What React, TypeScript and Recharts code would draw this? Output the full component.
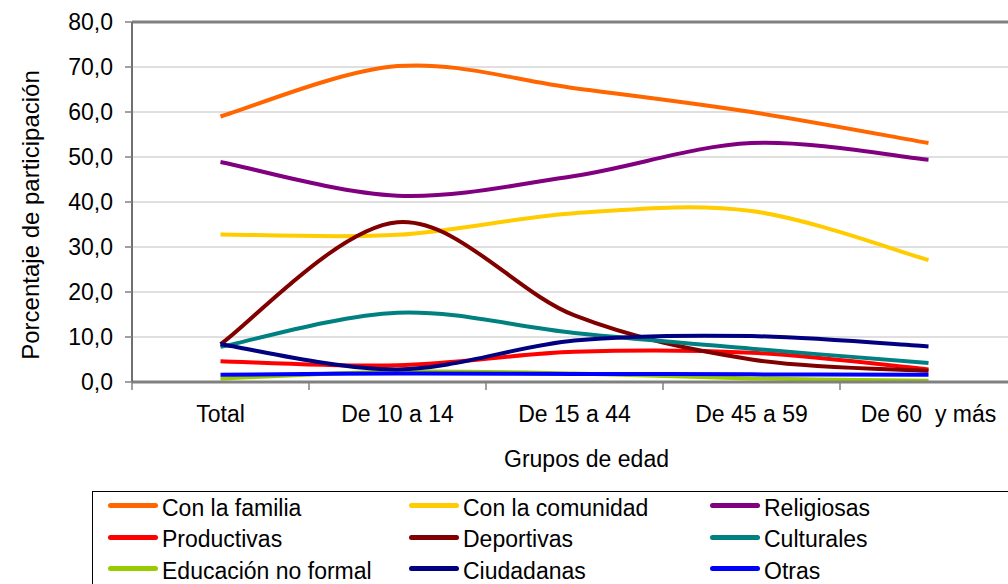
import {
  CartesianGrid,
  Legend,
  Line,
  LineChart,
  ReferenceLine,
  XAxis,
  YAxis,
} from 'recharts';

const FONT = '"Liberation Sans", Arial, sans-serif';

// Grupos de edad (categorias del eje X)
const groups = ['Total', 'De 10 a 14', 'De 15 a 44', 'De 45 a 59', 'De 60  y más'];

// Porcentaje de participación por tipo de organización
const conLaFamilia = [59.0, 70.2, 65.3, 60.0, 53.1];
const conLaComunidad = [32.8, 32.7, 37.5, 38.0, 27.1];
const religiosas = [48.9, 41.4, 45.8, 53.1, 49.4];
const productivas = [4.6, 3.7, 6.7, 6.5, 2.8];
const deportivas = [8.4, 35.5, 14.8, 5.0, 2.5];
const culturales = [7.8, 15.4, 10.9, 7.4, 4.2];
const educacionNoFormal = [0.8, 2.3, 1.9, 0.8, 0.3];
const ciudadanas = [8.4, 2.8, 9.2, 10.2, 7.9];
const otras = [1.6, 1.9, 1.8, 1.7, 1.6];

const yTicks = [0, 10, 20, 30, 40, 50, 60, 70, 80];

const series = [
  { key: 'familia', name: 'Con la familia', color: '#FF6600', values: conLaFamilia },
  { key: 'comunidad', name: 'Con la comunidad', color: '#FFCC00', values: conLaComunidad },
  { key: 'religiosas', name: 'Religiosas', color: '#800080', values: religiosas },
  { key: 'productivas', name: 'Productivas', color: '#FF0000', values: productivas },
  { key: 'deportivas', name: 'Deportivas', color: '#800000', values: deportivas },
  { key: 'culturales', name: 'Culturales', color: '#008080', values: culturales },
  { key: 'educacion', name: 'Educación no formal', color: '#99CC00', values: educacionNoFormal },
  { key: 'ciudadanas', name: 'Ciudadanas', color: '#000080', values: ciudadanas },
  { key: 'otras', name: 'Otras', color: '#0000FF', values: otras },
];

// each group sits in the middle of its band, ticks on the band edges
const rows = groups.map((g, i) => {
  const row: Record<string, any> = { group: g, pos: i + 0.5 };
  series.forEach((s) => {
    row[s.key] = s.values[i];
  });
  return row;
});
const xTicks: number[] = [];
for (let i = 0; i <= groups.length * 2; i++) xTicks.push(i / 2);

// Excel style smoothed line (catmull-rom as cubic bezier)
const excelCurve = (context: any) => {
  let pts: number[][] = [];
  return {
    areaStart() {},
    areaEnd() {},
    lineStart() {
      pts = [];
    },
    lineEnd() {
      const n = pts.length;
      if (!n) return;
      context.moveTo(pts[0][0], pts[0][1]);
      for (let i = 0; i < n - 1; i++) {
        const p0 = pts[Math.max(i - 1, 0)];
        const p1 = pts[i];
        const p2 = pts[i + 1];
        const p3 = pts[Math.min(i + 2, n - 1)];
        context.bezierCurveTo(
          p1[0] + (p2[0] - p0[0]) / 6,
          p1[1] + (p2[1] - p0[1]) / 6,
          p2[0] - (p3[0] - p1[0]) / 6,
          p2[1] - (p3[1] - p1[1]) / 6,
          p2[0],
          p2[1],
        );
      }
    },
    point(x: number, y: number) {
      pts.push([+x, +y]);
    },
  };
};

const XTick = (props: any) => {
  const { x, y, payload } = props;
  const v = payload.value;
  if (Number.isInteger(v)) {
    return <line x1={x} x2={x} y1={y} y2={y + 8} stroke="#808080" strokeWidth={1.5} />;
  }
  return (
    <text
      x={x}
      y={y + 40}
      textAnchor="middle"
      fontSize={23}
      fontFamily={FONT}
      fill="#000"
      style={{ whiteSpace: 'pre' }}
    >
      {groups[Math.floor(v)]}
    </text>
  );
};

const XTitle = (props: any) => {
  const vb = props.viewBox || { x: 132, y: 382, width: 885 };
  return (
    <text x={vb.x + vb.width / 2 + 12} y={467} textAnchor="middle" fontSize={23} fontFamily={FONT} fill="#000">
      Grupos de edad
    </text>
  );
};

const YTitle = () => {
  const cx = 30;
  const cy = 215;
  return (
    <text
      x={cx}
      y={cy}
      transform={`rotate(-90, ${cx}, ${cy})`}
      textAnchor="middle"
      dominantBaseline="central"
      fontSize={24}
      fontFamily={FONT}
      fill="#000"
    >
      Porcentaje de participación
    </text>
  );
};

// legend keeps the series order (row by row, three columns)
const LegendBox = () => (
  <div
    style={{
      boxSizing: 'border-box',
      width: 1000,
      height: 110,
      border: '1px solid #000',
      paddingLeft: 15,
      display: 'grid',
      gridTemplateColumns: '301px 301px 301px',
      gridTemplateRows: '31px 32px 31px',
      fontFamily: FONT,
      fontSize: 23,
      lineHeight: '26px',
      color: '#000',
      background: '#fff',
    }}
  >
    {series.map((s) => (
      <div key={s.key} style={{ display: 'flex', alignItems: 'center', whiteSpace: 'nowrap' }}>
        <span
          style={{
            display: 'inline-block',
            width: 50,
            height: 5,
            borderRadius: 3,
            background: s.color,
            marginRight: 4,
            marginTop: -4,
          }}
        />
        <span>{s.name}</span>
      </div>
    ))}
  </div>
);

export default function App() {
  return (
    <div
      style={{
        position: 'absolute',
        left: 0,
        top: 0,
        width: 1008,
        height: 584,
        overflow: 'hidden',
        background: '#fff',
      }}
    >
      <LineChart width={1030} height={584} data={rows} margin={{ top: 22, right: 13, left: 0, bottom: 0 }}>
        <CartesianGrid vertical={false} stroke="#c0c0c0" strokeWidth={1} />
        <XAxis
          dataKey="pos"
          type="number"
          domain={[0, groups.length]}
          ticks={xTicks}
          interval={0}
          height={202}
          tickSize={0}
          tickMargin={0}
          tickLine={false}
          tick={<XTick />}
          axisLine={{ stroke: '#808080', strokeWidth: 3 }}
          label={<XTitle />}
        />
        <YAxis
          domain={[0, 80]}
          ticks={yTicks}
          interval={0}
          width={132}
          tickSize={7}
          tickMargin={12}
          tickFormatter={(v: number) => v.toFixed(1).replace('.', ',')}
          tick={{ fill: '#000', fontSize: 23, fontFamily: FONT }}
          tickLine={{ stroke: '#808080', strokeWidth: 1.5 }}
          axisLine={{ stroke: '#707070', strokeWidth: 2 }}
          label={<YTitle />}
        />
        <ReferenceLine y={80} stroke="#808080" strokeWidth={3} />
        <Legend
          layout="horizontal"
          verticalAlign="middle"
          align="center"
          wrapperStyle={{ left: 92, top: 491, width: 1000 }}
          content={<LegendBox />}
        />
        {series.map((s) => (
          <Line
            key={s.key}
            dataKey={s.key}
            name={s.name}
            stroke={s.color}
            strokeWidth={4}
            type={excelCurve as any}
            dot={false}
            activeDot={false}
            isAnimationActive={false}
          />
        ))}
      </LineChart>
    </div>
  );
}
